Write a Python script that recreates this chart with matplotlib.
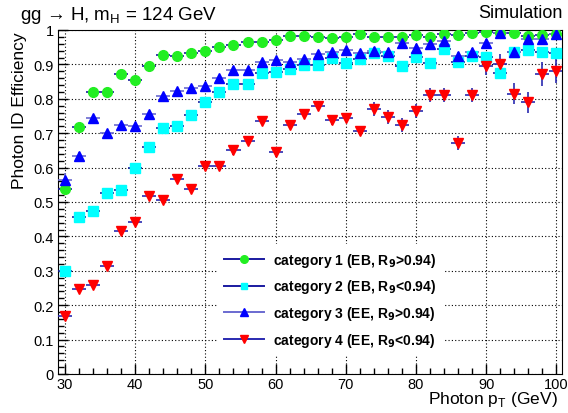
import matplotlib
matplotlib.use("Agg")
import matplotlib.pyplot as plt
import numpy as np
from matplotlib.lines import Line2D

plt.rcParams['font.family'] = ['Liberation Sans', 'DejaVu Sans']

pt = np.arange(30, 101, 2)

# category 1 (EB, R9>0.94)
eff1 = [0.538, 0.719, 0.820, 0.820, 0.871, 0.855, 0.894, 0.926, 0.923, 0.932,
        0.939, 0.952, 0.957, 0.964, 0.964, 0.971, 0.983, 0.983, 0.981, 0.978,
        0.981, 0.988, 0.981, 0.981, 0.981, 0.986, 0.981, 0.988, 0.986, 0.992,
        0.995, 0.992, 0.992, 0.983, 0.986, 0.988]
# category 2 (EB, R9<0.94)
eff2 = [0.300, 0.456, 0.475, 0.526, 0.536, 0.600, 0.661, 0.714, 0.721, 0.752,
        0.790, 0.819, 0.843, 0.843, 0.875, 0.879, 0.887, 0.899, 0.899, 0.920,
        0.904, 0.915, 0.934, 0.925, 0.894, 0.921, 0.904, 0.944, 0.908, 0.925,
        0.921, 0.875, 0.937, 0.942, 0.937, 0.934]
# category 3 (EE, R9>0.94)
eff3 = [0.565, 0.634, 0.743, 0.701, 0.723, 0.721, 0.757, 0.809, 0.822, 0.831,
        0.836, 0.860, 0.884, 0.884, 0.908, 0.913, 0.906, 0.915, 0.931, 0.937,
        0.942, 0.933, 0.939, 0.935, 0.963, 0.947, 0.958, 0.968, 0.925, 0.937,
        0.963, 0.992, 0.935, 0.973, 0.974, 0.988]
# category 4 (EE, R9<0.94)
eff4 = [0.170, 0.247, 0.258, 0.313, 0.415, 0.441, 0.518, 0.507, 0.568, 0.539,
        0.605, 0.605, 0.650, 0.677, 0.735, 0.644, 0.725, 0.757, 0.780, 0.737,
        0.745, 0.706, 0.771, 0.746, 0.723, 0.764, 0.812, 0.812, 0.671, 0.812,
        0.894, 0.901, 0.815, 0.790, 0.873, 0.880]

err1 = [0.005] * 36
err2 = [0.006] * 36
err3 = [0.02, 0.01] + [0.008] * 20 + [0.012] * 14
err4 = [0.008] * 12 + [0.012] * 10 + [0.02] * 8 + [0.025, 0.03, 0.03, 0.03, 0.035, 0.035]

labels = [r"category 1 (EB, R$_\mathbf{9}$>0.94)",
          r"category 2 (EB, R$_\mathbf{9}$<0.94)",
          r"category 3 (EE, R$_\mathbf{9}$>0.94)",
          r"category 4 (EE, R$_\mathbf{9}$<0.94)"]

fig = plt.figure(figsize=(5.68, 4.14), dpi=100)
ax = fig.add_axes([58/568, 39/414, 504/568, 344/414])

styles = [("o", "#22ee22", 7, eff1, err1, "#1a1aa0"),
          ("s", "#00ffff", 6.5, eff2, err2, "#1a1aa0"),
          ("^", "#0000ff", 7, eff3, err3, "#6a6ad0"),
          ("v", "#ff0000", 7, eff4, err4, "#2a2ab0")]

handles = []
for m, c, ms, e, er, lc in styles:
    ax.errorbar(pt, e, xerr=1, yerr=er, fmt=m, color=c, ms=ms, mec=c,
                ecolor=lc, elinewidth=1.2, capsize=0, zorder=3)
    handles.append(Line2D([0], [0], color=lc, lw=1.4, marker=m, ms=ms - 1.5,
                          mfc=c, mec=c))

ax.set_xlim(29, 100.8)
ax.set_ylim(0, 1)
ax.set_xticks(np.arange(30, 101, 10))
ax.set_xticks(np.arange(30, 101, 2), minor=True)
ax.set_yticks(np.arange(0, 1.01, 0.1))
ax.set_yticks(np.arange(0, 1.001, 0.02), minor=True)
ax.set_yticklabels(["0"] + ["%.1f" % v for v in np.arange(0.1, 0.95, 0.1)] + ["1"])
ax.tick_params(which="major", direction="in", length=7, labelsize=10.5, width=1)
ax.tick_params(which="minor", direction="in", length=4, width=1)
ax.tick_params(axis="x", pad=2)
ax.tick_params(axis="y", pad=3)
ax.grid(True, which="major", color="black", linestyle=(0, (1, 2)), linewidth=0.8)
ax.set_axisbelow(True)

fig.text(558/568, 1 - 400/414, r"Photon p$_\mathregular{T}$ (GeV)", fontsize=12.5,
         ha="right", va="center")
fig.text(20/568, 1 - 32/414, "Photon ID Efficiency", fontsize=12.5,
         rotation=90, ha="center", va="top")

fig.text(20/568, 1 - 15/414, r"gg → H, m$_\mathregular{H}$ = 124 GeV",
         fontsize=13.5, va="center", ha="left")
fig.text(563/568, 1 - 14/414, "Simulation", fontsize=13, va="center", ha="right")

leg = ax.legend(handles, labels, loc="upper left",
                bbox_to_anchor=((210 - 58)/504, (375 - 238)/344),
                frameon=True, fancybox=False, edgecolor="none", framealpha=1,
                prop={"weight": "bold", "size": 10}, handlelength=2.9,
                labelspacing=0.62, borderpad=0.5, handletextpad=0.65)

fig.savefig("out.png", dpi=100)
